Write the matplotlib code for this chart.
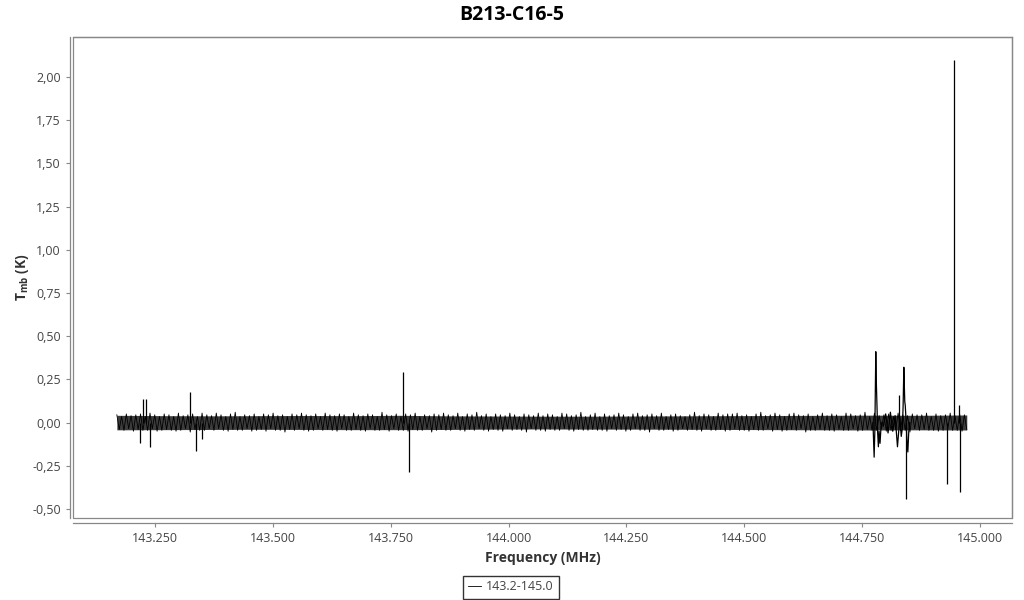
import numpy as np
import matplotlib.pyplot as plt
from matplotlib.ticker import FuncFormatter
from matplotlib.patches import Rectangle

plt.rcParams['font.family'] = ['Open Sans', 'DejaVu Sans']
plt.rcParams['mathtext.fontset'] = 'custom'
plt.rcParams['mathtext.rm'] = 'Open Sans'
plt.rcParams['mathtext.bf'] = 'Open Sans:bold'

title = "B213-C16-5"
series_name = "143.2-145.0"
f_start, f_end = 143.169, 144.972  # MHz, first/last channel

# baseline noise (K), read across the band left to right
noise = [
    .045, -.04, .035, -.045, .05, -.035, .04, -.05, .045, -.04, .05, -.045, .035, -.045, .055, -.035, .045, -.05, .035, -.045,
    .05, -.04, .045, -.045, .035, -.05, .055, -.045, .04, -.035, .045, -.055, .05, -.04, .035, -.045, .055, -.045, .045, -.035,
    .04, -.045, .055, -.035, .045, -.045, .035, -.05, .05, -.04, .06, -.045, .035, -.045, .045, -.035, .04, -.05, .05, -.045,
    .035, -.04, .05, -.05, .045, -.035, .055, -.045, .04, -.045, .045, -.055, .035, -.04, .05, -.045, .045, -.035, .055, -.045,
    .045, -.05, .04, -.045, .05, -.035, .035, -.045, .055, -.04, .045, -.045, .04, -.05, .05, -.035, .045, -.045, .035, -.045,
    .055, -.04, .045, -.045, .04, -.05, .05, -.035, .045, -.045, .035, -.045, .06, -.04, .045, -.05, .04, -.035, .05, -.045,
    .035, -.045, .05, -.05, .045, -.04, .055, -.045, .035, -.045, .045, -.035, .04, -.055, .05, -.045, .045, -.04, .055, -.045,
    .045, -.045, .04, -.035, .055, -.045, .035, -.05, .05, -.04, .045, -.045, .06, -.035, .04, -.045, .05, -.05, .035, -.04,
    .05, -.045, .045, -.05, .04, -.035, .055, -.045, .045, -.04, .035, -.045, .05, -.055, .045, -.035, .04, -.045, .055, -.045,
    .04, -.05, .05, -.04, .045, -.045, .035, -.045, .055, -.035, .05, -.045, .04, -.05, .045, -.04, .06, -.045, .035, -.045,
    .045, -.04, .055, -.045, .035, -.045, .05, -.05, .04, -.035, .045, -.045, .055, -.04, .045, -.05, .035, -.045, .05, -.035,
    .055, -.045, .04, -.045, .045, -.055, .05, -.035, .04, -.045, .055, -.045, .035, -.04, .045, -.05, .05, -.045, .04, -.035,
    .035, -.045, .045, -.04, .06, -.045, .04, -.05, .05, -.035, .045, -.045, .035, -.045, .055, -.04, .045, -.05, .05, -.045,
    .05, -.035, .055, -.045, .04, -.045, .045, -.05, .035, -.04, .05, -.045, .06, -.045, .04, -.035, .045, -.05, .055, -.04,
    .045, -.05, .035, -.045, .05, -.04, .055, -.045, .045, -.035, .04, -.055, .05, -.045, .035, -.045, .045, -.04, .055, -.045,
    .04, -.045, .05, -.05, .045, -.04, .035, -.045, .055, -.045, .05, -.035, .04, -.05, .045, -.045, .06, -.04, .035, -.045,
    .055, -.045, .04, -.035, .045, -.05, .05, -.045, .035, -.04, .055, -.045, .045, -.045, .04, -.055, .05, -.035, .045, -.045,
    .045, -.04, .055, -.045, .035, -.045, .05, -.05, .04, -.045, .045, -.035, .055, -.045, .04, -.045, .05, -.05, .045, -.04,
]

# envelope of the dense noise band (K), every 0.1 MHz from f_start
band_freq = [143.169, 143.269, 143.369, 143.469, 143.569, 143.669, 143.769, 143.869, 143.969, 144.069,
             144.169, 144.269, 144.369, 144.469, 144.569, 144.669, 144.769, 144.869, 144.972]
band_hi = [0.042, 0.040, 0.039, 0.040, 0.041, 0.040, 0.042, 0.039, 0.038, 0.037,
           0.037, 0.038, 0.039, 0.040, 0.041, 0.042, 0.043, 0.042, 0.044]
band_lo = [-0.042, -0.041, -0.040, -0.039, -0.040, -0.041, -0.041, -0.040, -0.038, -0.037,
           -0.038, -0.038, -0.039, -0.040, -0.041, -0.042, -0.043, -0.042, -0.043]

# P-Cygni-like line near 144.78
feat1_freq = [144.7730, 144.7755, 144.7770, 144.7790, 144.7800, 144.7810, 144.7820, 144.7830, 144.7845,
              144.7860, 144.7880, 144.7900, 144.7920]
feat1_tmb = [0.00, -0.20, -0.05, 0.41, 0.25, 0.15, 0.05, -0.06, -0.14, -0.05, -0.12, -0.03, 0.00]

# blended region 144.79-144.85
feat2_freq = [144.7950, 144.8000, 144.8050, 144.8100, 144.8150, 144.8200, 144.8250, 144.8300, 144.8330,
              144.8355, 144.8370, 144.8385, 144.8395, 144.8405, 144.8415, 144.8435, 144.8450, 144.8470,
              144.8490, 144.8510]
feat2_tmb = [-0.02, 0.05, -0.06, 0.06, -0.05, 0.04, -0.14, 0.03, -0.08, -0.03, 0.10, 0.32, 0.22, 0.12,
             0.10, 0.00, -0.10, -0.17, -0.05, 0.00]

# single-channel spikes
spike_freq = [143.2185, 143.2245, 143.2315, 143.2385, 143.3235, 143.3370, 143.3505, 143.7770, 143.7890,
              144.8280, 144.8425, 144.9310, 144.9440, 144.9565, 144.9570]
spike_tmb = [-0.12, 0.135, 0.135, -0.14, 0.175, -0.165, -0.095, 0.29, -0.285, 0.16, -0.44, -0.355, 2.10, 0.10, -0.40]

x_ticks = [143.25, 143.5, 143.75, 144.0, 144.25, 144.5, 144.75, 145.0]
y_ticks = [-0.5, -0.25, 0.0, 0.25, 0.5, 0.75, 1.0, 1.25, 1.5, 1.75, 2.0]

chan_freq = np.linspace(f_start, f_end, len(noise))  # channel grid

fig = plt.figure(figsize=(10.24, 6), dpi=100)
ax = fig.add_axes([0.0713, 0.1367, 0.917, 0.8017])

ax.fill_between(band_freq, band_lo, band_hi, color='#3c3c3c', lw=0)
ax.plot(chan_freq, noise, color='black', lw=0.6, label=series_name)
ax.plot(feat1_freq, feat1_tmb, color='black', lw=0.9)
ax.plot(feat2_freq, feat2_tmb, color='black', lw=0.9)
ax.vlines(spike_freq, 0, spike_tmb, color='black', lw=0.9)

ax.set_xlim(143.076, 145.068)
ax.set_ylim(-0.552, 2.231)
ax.set_xticks(x_ticks)
ax.set_yticks(y_ticks)
ax.xaxis.set_major_formatter(FuncFormatter(lambda v, p: f"{v:.3f}"))
ax.yaxis.set_major_formatter(FuncFormatter(lambda v, p: f"{v:.2f}".replace('.', ',')))
ax.tick_params(colors='#888888', labelcolor='#444444', labelsize=9, length=3, width=0.8)

# offset axis lines + plot frame
for s in ax.spines.values():
    s.set_color('#888888')
    s.set_linewidth(0.9)
ax.spines['left'].set_position(('outward', 2.2))
ax.spines['bottom'].set_position(('outward', 3.6))
ax.add_patch(Rectangle((0, 0), 1, 1, transform=ax.transAxes, fill=False,
                       edgecolor='#888888', lw=0.9, clip_on=False))

fig.text(0.5, 1 - 15 / 600, title, ha='center', va='center', fontsize=14, fontweight='bold')
ax.set_xlabel("Frequency (MHz)", fontsize=10, fontweight='bold', color='#333333', labelpad=4)
ax.set_ylabel(r"$\mathbf{T}_{\mathbf{mb}}$ (K)", fontsize=10, fontweight='bold', color='#333333', labelpad=1)

fig.legend(loc='center', bbox_to_anchor=(511 / 1024, 1 - 587 / 600), fontsize=9, frameon=True,
           fancybox=False, edgecolor='black', handlelength=1.0, handletextpad=0.4,
           borderpad=0.4, labelcolor='#444444')

fig.savefig("out.png", dpi=100)
